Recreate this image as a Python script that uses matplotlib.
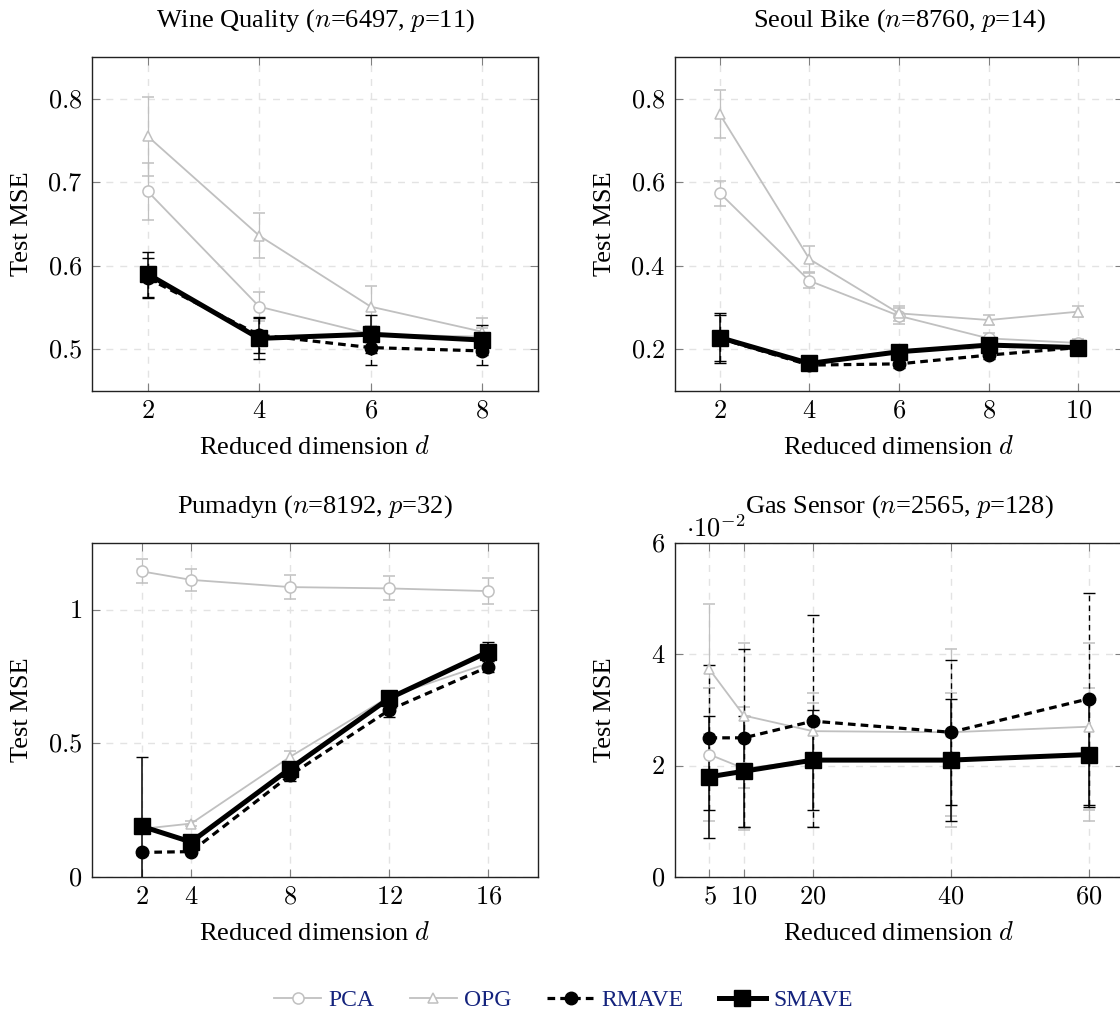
import matplotlib
matplotlib.use("Agg")
import matplotlib.pyplot as plt
from matplotlib.lines import Line2D
from matplotlib.ticker import FuncFormatter

GRAY = "#c0c0c0"
NAVY = "#14237d"

plt.rcParams["font.family"] = ["Liberation Serif", "DejaVu Serif"]
plt.rcParams["mathtext.fontset"] = "cm"
plt.rcParams["font.size"] = 19

# ---- data (mean, error) ----
wine_d = [2, 4, 6, 8]
wine_pca = [0.689, 0.551, 0.518, 0.515]
wine_pca_err = [0.034, 0.017, 0.010, 0.010]
wine_opg = [0.755, 0.636, 0.551, 0.521]
wine_opg_err = [0.047, 0.027, 0.025, 0.017]
wine_rmave = [0.585, 0.517, 0.502, 0.498]
wine_rmave_err = [0.024, 0.022, 0.021, 0.017]
wine_smave = [0.590, 0.513, 0.518, 0.511]
wine_smave_err = [0.027, 0.025, 0.023, 0.018]

bike_d = [2, 4, 6, 8, 10]
bike_pca = [0.574, 0.364, 0.280, 0.226, 0.215]
bike_pca_err = [0.030, 0.018, 0.020, 0.012, 0.010]
bike_opg = [0.763, 0.416, 0.286, 0.270, 0.290]
bike_opg_err = [0.058, 0.032, 0.018, 0.012, 0.013]
bike_rmave = [0.226, 0.162, 0.165, 0.186, 0.204]
bike_rmave_err = [0.055, 0.008, 0.010, 0.010, 0.008]
bike_smave = [0.228, 0.166, 0.194, 0.210, 0.204]
bike_smave_err = [0.060, 0.008, 0.012, 0.010, 0.008]

puma_d = [2, 4, 8, 12, 16]
puma_pca = [1.144, 1.112, 1.085, 1.080, 1.070]
puma_pca_err = [0.045, 0.040, 0.045, 0.045, 0.050]
puma_opg = [0.180, 0.200, 0.450, 0.675, 0.800]
puma_opg_err = [0.010, 0.010, 0.020, 0.020, 0.020]
puma_rmave = [0.092, 0.095, 0.381, 0.625, 0.787]
puma_rmave_err = [0.008, 0.010, 0.020, 0.025, 0.020]
puma_smave = [0.190, 0.131, 0.406, 0.669, 0.843]
puma_smave_err = [0.260, 0.012, 0.015, 0.015, 0.035]

gas_d = [5, 10, 20, 40, 60]
gas_pca = [0.0220, 0.0195, 0.0210, 0.0210, 0.0220]
gas_pca_err = [0.0120, 0.0110, 0.0120, 0.0120, 0.0120]
gas_opg = [0.0373, 0.0290, 0.0262, 0.0260, 0.0270]
gas_opg_err = [0.0117, 0.0130, 0.0050, 0.0150, 0.0150]
gas_rmave = [0.0250, 0.0250, 0.0280, 0.0260, 0.0320]
gas_rmave_err = [0.0130, 0.0160, 0.0190, 0.0130, 0.0190]
gas_smave = [0.0180, 0.0190, 0.0210, 0.0210, 0.0220]
gas_smave_err = [0.0110, 0.0100, 0.0090, 0.0110, 0.0095]

panels = [
    dict(title=r"Wine Quality ($n$=6497, $p$=11)", d=wine_d,
         series=[wine_pca, wine_opg, wine_rmave, wine_smave],
         errs=[wine_pca_err, wine_opg_err, wine_rmave_err, wine_smave_err],
         xlim=(1, 9), ylim=(0.45, 0.85), yticks=[0.5, 0.6, 0.7, 0.8], scale=1),
    dict(title=r"Seoul Bike ($n$=8760, $p$=14)", d=bike_d,
         series=[bike_pca, bike_opg, bike_rmave, bike_smave],
         errs=[bike_pca_err, bike_opg_err, bike_rmave_err, bike_smave_err],
         xlim=(1, 11), ylim=(0.1, 0.9), yticks=[0.2, 0.4, 0.6, 0.8], scale=1),
    dict(title=r"Pumadyn ($n$=8192, $p$=32)", d=puma_d,
         series=[puma_pca, puma_opg, puma_rmave, puma_smave],
         errs=[puma_pca_err, puma_opg_err, puma_rmave_err, puma_smave_err],
         xlim=(0, 18), ylim=(0, 1.25), yticks=[0, 0.5, 1], scale=1),
    dict(title=r"Gas Sensor ($n$=2565, $p$=128)", d=gas_d,
         series=[gas_pca, gas_opg, gas_rmave, gas_smave],
         errs=[gas_pca_err, gas_opg_err, gas_rmave_err, gas_smave_err],
         xlim=(0, 65), ylim=(0, 0.06), yticks=[0, 0.02, 0.04, 0.06], scale=100),
]

# method styles: PCA, OPG, RMAVE, SMAVE
styles = [
    dict(color=GRAY, lw=1.3, ls="-", marker="o", ms=8, mfc="white", mec=GRAY, mew=1.1, elw=0.9),
    dict(color=GRAY, lw=1.3, ls="-", marker="^", ms=7, mfc="white", mec=GRAY, mew=1.1, elw=0.9),
    dict(color="black", lw=2.3, ls="--", marker="o", ms=9, mfc="black", mec="black", mew=1, elw=1.0),
    dict(color="black", lw=3.6, ls="-", marker="s", ms=11, mfc="black", mec="black", mew=1, elw=1.1),
]
names = ["PCA", "OPG", "RMAVE", "SMAVE"]

W, H = 1120, 1015
fig = plt.figure(figsize=(W / 100, H / 100), dpi=100)
boxes = [(92, 57, 446, 334), (675, 57, 448, 334),
         (92, 543, 446, 334), (675, 543, 448, 334)]

for p, (l, t, w, h) in zip(panels, boxes):
    ax = fig.add_axes([l / W, 1 - (t + h) / H, w / W, h / H])
    for s, y, e in zip(styles, p["series"], p["errs"]):
        line, caps, bars = ax.errorbar(
            p["d"], y, yerr=e, color=s["color"], lw=s["lw"], marker=s["marker"],
            ms=s["ms"], mfc=s["mfc"], mec=s["mec"], mew=s["mew"],
            elinewidth=s["elw"], capsize=4.5, capthick=s["elw"], zorder=3)
        if s["ls"] == "--":
            line.set_dashes((2.4, 1.6))
            bars[0].set_linestyle((0, (4, 3)))
    ax.set_xlim(*p["xlim"])
    ax.set_ylim(*p["ylim"])
    ax.set_xticks(p["d"])
    ax.set_yticks(p["yticks"])
    sc = p["scale"]
    ax.xaxis.set_major_formatter(FuncFormatter(lambda v, _: f"${v:g}$"))
    ax.yaxis.set_major_formatter(FuncFormatter(lambda v, _, sc=sc: f"${round(v * sc, 4):g}$"))
    ax.grid(True, ls=(0, (5, 5)), color="#e3e3e3", lw=1.0, zorder=0)
    ax.tick_params(direction="in", top=True, right=True, length=6, width=0.8,
                   color="#808080", labelcolor="black", labelsize=19, pad=7)
    for sp in ax.spines.values():
        sp.set_linewidth(1.0)
        sp.set_color("#222222")
    ax.set_title(p["title"], pad=22, fontsize=19)
    ax.set_ylabel("Test MSE", fontsize=19)
    ax.yaxis.set_label_coords(-0.132, 0.5)
    ax.set_xlabel(r"Reduced dimension $d$", fontsize=19)
    ax.xaxis.set_label_coords(0.5, -0.135)
    if sc != 1:
        ax.text(0.025, 1.005, r"$\cdot 10^{-2}$", transform=ax.transAxes,
                ha="left", va="bottom", fontsize=19)

handles = []
for s, n in zip(styles, names):
    h = Line2D([], [], color=s["color"], lw=s["lw"], marker=s["marker"], ms=s["ms"],
               mfc=s["mfc"], mec=s["mec"], mew=s["mew"])
    if s["ls"] == "--":
        h.set_dashes((2.4, 1.6))
    handles.append(h)
leg = fig.legend(handles, names, loc="center", bbox_to_anchor=(0.503, 1 - 1000 / H),
                 ncol=4, frameon=False, fontsize=17, handlelength=2.0,
                 columnspacing=1.5, handletextpad=0.3)
for txt in leg.get_texts():
    txt.set_color(NAVY)

fig.savefig("out.png", dpi=100)
